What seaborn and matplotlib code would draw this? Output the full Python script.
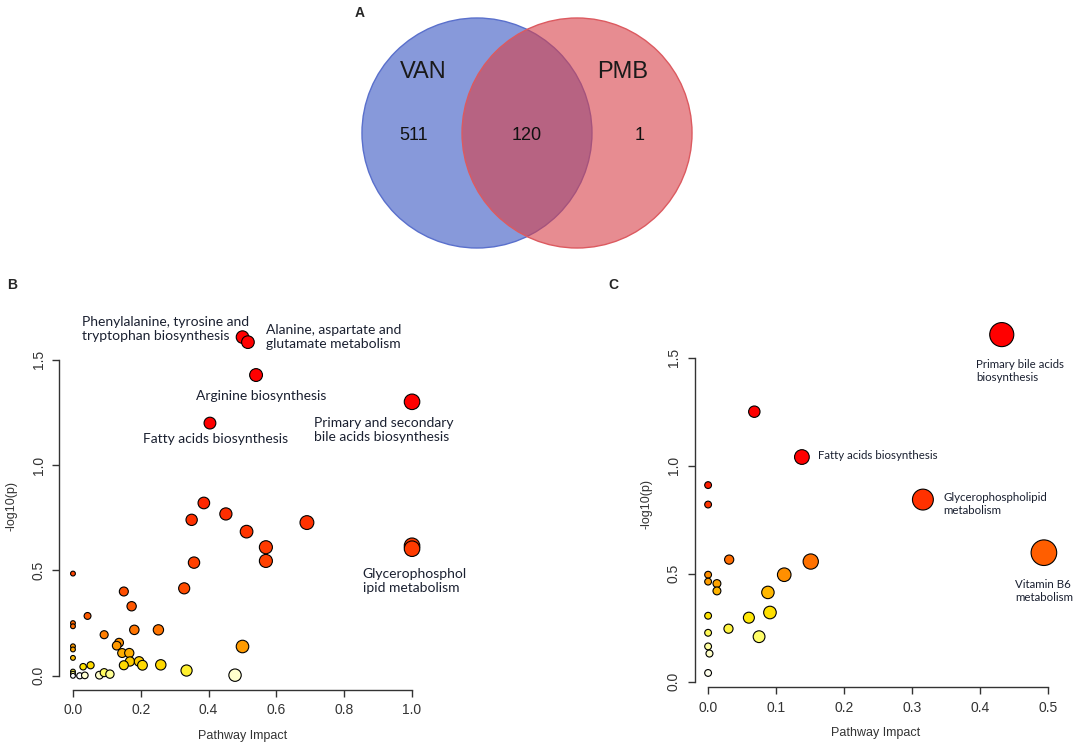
import numpy as np
import pandas as pd
import seaborn as sns
import matplotlib.pyplot as plt
from matplotlib.colors import LinearSegmentedColormap, Normalize, PowerNorm
from matplotlib.patches import Circle

# Venn counts
venn_sets = ["VAN", "PMB"]
venn_counts = [511, 120, 1]   # VAN only, shared, PMB only

# Panel B: pathway impact vs -log10(p)
b_impact = [0.50, 0.516, 0.54, 0.404, 1.0, 1.0, 1.0,
            0.386, 0.35, 0.451, 0.512, 0.569, 0.569, 0.357, 0.328, 0.69,
            0.50, 0.478, 0.0, 0.15, 0.173, 0.043, 0.0, 0.0,
            0.092, 0.181, 0.252, 0.136, 0.129, 0.0, 0.0,
            0.145, 0.166, 0.0, 0.168, 0.195, 0.15, 0.205, 0.259,
            0.03, 0.052, 0.335, 0.0, 0.0, 0.0, 0.02, 0.035, 0.078, 0.092, 0.109]
b_logp = [1.607, 1.583, 1.427, 1.199, 1.30, 0.617, 0.603,
          0.82, 0.74, 0.768, 0.684, 0.61, 0.545, 0.537, 0.415, 0.727,
          0.139, 0.003, 0.485, 0.40, 0.33, 0.284, 0.25, 0.235,
          0.195, 0.218, 0.218, 0.157, 0.143, 0.14, 0.125,
          0.108, 0.108, 0.085, 0.068, 0.068, 0.05, 0.05, 0.052,
          0.043, 0.05, 0.025, 0.02, 0.01, 0.0, 0.0, 0.002, 0.003, 0.015, 0.008]
b_labels = ["Phenylalanine, tyrosine and\ntryptophan biosynthesis",
            "Alanine, aspartate and\nglutamate metabolism",
            "Arginine biosynthesis",
            "Fatty acids biosynthesis",
            "Primary and secondary\nbile acids biosynthesis",
            "Glycerophosphol\nipid metabolism"]
b_label_xy = [(0.027, 1.645), (0.569, 1.607), (0.363, 1.327),
              (0.206, 1.123), (0.711, 1.166), (0.855, 0.45)]

# Panel C
c_impact = [0.432, 0.068, 0.138, 0.316, 0.494, 0.0, 0.0, 0.031, 0.0, 0.0,
            0.013, 0.013, 0.112, 0.151, 0.088, 0.091, 0.06, 0.03, 0.075,
            0.0, 0.0, 0.0, 0.002, 0.0]
c_logp = [1.607, 1.25, 1.04, 0.843, 0.597, 0.91, 0.82, 0.565, 0.495, 0.463,
          0.454, 0.42, 0.495, 0.556, 0.413, 0.32, 0.296, 0.245, 0.208,
          0.305, 0.226, 0.163, 0.13, 0.04]
c_labels = ["Primary bile acids\nbiosynthesis", "Fatty acids biosynthesis",
            "Glycerophospholipid\nmetabolism", "Vitamin B6\nmetabolism"]
c_label_xy = [(0.394, 1.44), (0.162, 1.046), (0.346, 0.824), (0.452, 0.42)]

sns.set_style("ticks")
plt.rcParams['font.family'] = ['Liberation Sans', 'DejaVu Sans']

heat = LinearSegmentedColormap.from_list("heat", [
    (0.0, "#ffffff"), (0.13, "#ffffc8"), (0.2, "#ffff70"), (0.3, "#ffe600"),
    (0.42, "#ffb400"), (0.5, "#ff8c00"), (0.6, "#ff5c00"), (0.85, "#ff3000"),
    (1.0, "#ff0000")])

W, H = 1084, 750
fig = plt.figure(figsize=(W / 100, H / 100), dpi=100)


def px_axes(l, t, r, b):
    return fig.add_axes([l / W, 1 - b / H, (r - l) / W, (b - t) / H])


# ---- A: Venn ----
ax_a = px_axes(343, 6.5, 711, 259.5)
ax_a.set_xlim(-1.6, 1.6)
ax_a.set_ylim(-1.1, 1.1)
ax_a.set_aspect('equal')
ax_a.axis('off')
ax_a.add_patch(Circle((-0.435, 0), 1, facecolor="#3050c0", alpha=0.58, edgecolor="none"))
ax_a.add_patch(Circle((-0.435, 0), 1, facecolor="none", edgecolor="#5a70cc", lw=1))
ax_a.add_patch(Circle((0.435, 0), 1, facecolor="#d84048", alpha=0.6, edgecolor="none"))
ax_a.add_patch(Circle((0.435, 0), 1, facecolor="none", edgecolor="#dc5a60", lw=1))
ax_a.text(-0.9, 0.53, venn_sets[0], fontsize=17, ha='center', va='center', color='#1a1a1a')
ax_a.text(0.83, 0.53, venn_sets[1], fontsize=17, ha='center', va='center', color='#1a1a1a')
for xx, n in zip([-0.99, 0.0, 0.98], venn_counts):
    ax_a.text(xx, -0.02, str(n), fontsize=13, ha='center', va='center', color='#111111')


def style_axes(ax, xticks, xmax):
    ax.set_xticks(xticks)
    ax.set_yticks([0.0, 0.5, 1.0, 1.5])
    ax.set_xticklabels([f"{t:.1f}" for t in xticks])
    ax.set_yticklabels(["0.0", "0.5", "1.0", "1.5"], rotation=90, va='center')
    for s in ['top', 'right']:
        ax.spines[s].set_visible(False)
    ax.spines['bottom'].set_bounds(0, xmax)
    ax.spines['left'].set_bounds(0, 1.5)
    for s in ['bottom', 'left']:
        ax.spines[s].set_color('#333333')
        ax.spines[s].set_linewidth(1)
    ax.tick_params(direction='out', length=5, width=1, colors='#333333', labelsize=10, pad=5)
    ax.set_xlabel("Pathway Impact", fontsize=9, labelpad=9, color='#333333')
    ax.set_ylabel("-log10(p)", fontsize=9, labelpad=10, color='#333333')
    ax.grid(False)


# ---- B ----
ax_b = px_axes(59.4, 323.4, 425.6, 689.5)
df_b = pd.DataFrame({"impact": b_impact, "logp": b_logp})
sns.scatterplot(data=df_b, x="impact", y="logp", hue="logp", size="impact",
                palette=heat, hue_norm=PowerNorm(0.35, vmin=0, vmax=1.2),
                sizes=(12, 125), size_norm=PowerNorm(0.7, vmin=0, vmax=1),
                edgecolor="black", linewidth=0.8, legend=False, ax=ax_b, zorder=3)
ax_b.set_xlim(-0.04, 1.04)
ax_b.set_ylim(-0.065, 1.672)
style_axes(ax_b, [0.0, 0.2, 0.4, 0.6, 0.8, 1.0], 1.0)
for lab, (tx, ty) in zip(b_labels, b_label_xy):
    ax_b.text(tx, ty, lab, fontsize=10, family='Lato', color='#1a2030',
              ha='left', va='center', linespacing=1.2, clip_on=False)

# ---- C ----
ax_c = px_axes(694.5, 321, 1057.5, 687)
df_c = pd.DataFrame({"impact": c_impact, "logp": c_logp})
sns.scatterplot(data=df_c, x="impact", y="logp", hue="logp", size="impact",
                palette=heat, hue_norm=Normalize(0, 1.0),
                sizes=(24, 340), size_norm=(0, 0.494),
                edgecolor="black", linewidth=0.8, legend=False, ax=ax_c, zorder=3)
ax_c.set_xlim(-0.02, 0.514)
ax_c.set_ylim(-0.025, 1.67)
style_axes(ax_c, [0.0, 0.1, 0.2, 0.3, 0.4, 0.5], 0.5)
for lab, (tx, ty) in zip(c_labels, c_label_xy):
    ax_c.text(tx, ty, lab, fontsize=8.3, family='Lato', color='#1a2030',
              ha='left', va='center', linespacing=1.25, clip_on=False)

# panel letters
fig.text(360 / W, 1 - 13 / H, "A", fontsize=10, fontweight='bold', ha='center', va='center')
fig.text(12 / W, 1 - 285 / H, "B", fontsize=10, fontweight='bold', ha='center', va='center')
fig.text(613 / W, 1 - 285 / H, "C", fontsize=10, fontweight='bold', ha='center', va='center')

fig.savefig("out.png", dpi=100)
